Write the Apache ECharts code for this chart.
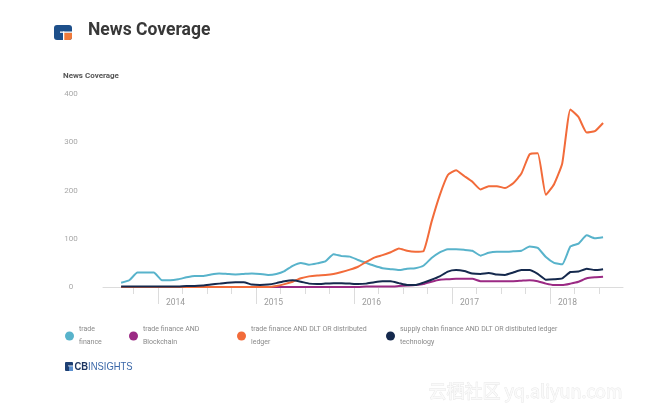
<!DOCTYPE html>
<html><head><meta charset="utf-8">
<script src="https://cdn.jsdelivr.net/npm/echarts@6/dist/echarts.min.js"></script>
<style>html,body{margin:0;padding:0;background:#fff}#c{width:650px;height:415px}</style>
</head><body><div id="c"></div>
<script>
const months = [
 '2013-08','2013-09','2013-10','2013-11','2013-12',
 '2014-01','2014-02','2014-03','2014-04','2014-05','2014-06','2014-07','2014-08','2014-09','2014-10','2014-11','2014-12',
 '2015-01','2015-02','2015-03','2015-04','2015-05','2015-06','2015-07','2015-08','2015-09','2015-10','2015-11','2015-12',
 '2016-01','2016-02','2016-03','2016-04','2016-05','2016-06','2016-07','2016-08','2016-09','2016-10','2016-11','2016-12',
 '2017-01','2017-02','2017-03','2017-04','2017-05','2017-06','2017-07','2017-08','2017-09','2017-10','2017-11','2017-12',
 '2018-01','2018-02','2018-03','2018-04','2018-05','2018-06','2018-07'
];
const yearLabels = [2014, 2015, 2016, 2017, 2018];
const yTicks = [0, 100, 200, 300, 400];
const seriesNames = [
 'trade\nfinance',
 'trade finance AND\nBlockchain',
 'trade finance AND DLT OR distributed\nledger',
 'supply chain finance AND DLT OR distibuted ledger\ntechnology'
];
const tradeFinance = [9,14,30,30,30,14,14,16,20,23, 23,26,28,27,26,27,28,27,25,27, 33,44,50,46,49,53,68,64,63,56, 50,44,39,37,35,38,39,44,60,72, 78,78,77,75,65,71,73,73,74,75, 84,81,62,50,47,84,90,107,101,103];
const blockchain = [0,0,0,0,0,0,0,0,0,0, 0,0,0,0,0,0,0,0,0,0, 0,0,0,0,0,0,0,0,0,0, 1,1,1,1,2,3,4,6,11,15, 16,17,17,17,12,12,12,12,12,13, 14,12,7,4,4,7,11,18,20,21];
const dltLedger = [0,0,0,0,0,0,0,0,0,0, 0,0,0,0,0,0,0,0,0,2, 6,11,18,22,24,25,27,31,36,42, 52,61,66,72,80,75,73,74,135,190, 232,242,230,218,202,209,209,205,215,235, 275,277,191,213,256,368,352,320,323,340];
const supplyChain = [1,1,1,1,1,1,1,1,2,2, 3,5,7,9,10,10,5,4,5,8, 12,14,11,7,6,7,8,8,7,6, 7,10,12,12,8,4,4,9,15,22, 32,35,33,28,27,29,26,25,30,35, 35,27,15,16,18,31,32,38,35,37];
const colors = ['#58b3cb', '#9b2a84', '#f26b3a', '#15294d'];

function toX(m) { const p = m.split('-').map(Number); return p[0] + (p[1] - 0.5) / 12; }
const quarterTicks = [];
for (let q = 2013.75; q <= 2018.5 + 1e-9; q += 0.25) quarterTicks.push(+q.toFixed(2));

const allSeries = [tradeFinance, blockchain, dltLedger, supplyChain];
const FONT = 'Roboto';
const chart = echarts.init(document.getElementById('c'), null, {renderer: 'canvas'});
const legendLefts = [65, 129, 237, 386];

chart.setOption({
  animation: false,
  backgroundColor: '#ffffff',
  textStyle: {fontFamily: FONT},
  title: {
    text: 'News Coverage', left: 83, top: 17,
    textStyle: {fontSize: 17.5, fontWeight: 'bold', color: '#383838', fontFamily: FONT}
  },
  legend: seriesNames.map((n, i) => ({
    data: [n], left: legendLefts[i], top: 323, icon: 'circle', itemWidth: 9, itemHeight: 9,
    selectedMode: false, padding: 0,
    textStyle: {fontSize: 7, color: '#8a8a8a', lineHeight: 13, fontFamily: FONT}
  })),
  grid: {left: 103, right: 27, top: 94, bottom: 128},
  xAxis: [{
    type: 'value', min: 2013.44, max: 2018.745,
    axisLine: {lineStyle: {color: '#dcdcdc', width: 1}},
    axisTick: {customValues: quarterTicks, length: 7, lineStyle: {color: '#dcdcdc'}},
    axisLabel: {customValues: yearLabels, formatter: v => String(Math.round(v)), align: 'left',
      padding: [0, 0, 0, 8], margin: 11, color: '#9a9a9a', fontSize: 8.5, fontFamily: FONT},
    splitLine: {show: false}
  }, {
    type: 'value', min: 2013.44, max: 2018.745, position: 'bottom',
    axisLine: {show: false},
    axisTick: {customValues: yearLabels, length: 17, lineStyle: {color: '#dcdcdc'}},
    axisLabel: {show: false},
    splitLine: {show: false}
  }],
  yAxis: {
    type: 'value', min: yTicks[0], max: yTicks[yTicks.length - 1], interval: 100,
    axisLine: {show: false}, axisTick: {show: false}, splitLine: {show: false},
    axisLabel: {color: '#a8a8a8', fontSize: 8, align: 'center', margin: 32, fontFamily: FONT}
  },
  series: allSeries.map((vals, i) => ({
    name: seriesNames[i], type: 'line', showSymbol: false, smooth: 0.15,
    color: colors[i], lineStyle: {width: 2, color: colors[i]},
    data: vals.map((v, k) => [toX(months[k]), v])
  })),
  graphic: [
    {type: 'text', left: 63, top: 72, style: {text: 'News Coverage', fontSize: 8, fontWeight: 'bold', fill: '#555', fontFamily: FONT}},
    {type: 'group', left: 54, top: 25, children: [
      {type: 'rect', shape: {x: 0, y: 0, width: 18, height: 15, r: 3}, style: {fill: '#1d4f8a'}},
      {type: 'rect', shape: {x: 10, y: 7.5, width: 8, height: 7.5, r: [0, 0, 3, 0]}, style: {fill: '#f07a3a'}},
      {type: 'rect', shape: {x: 6, y: 6.5, width: 12, height: 1.3}, style: {fill: '#fff'}},
      {type: 'rect', shape: {x: 9, y: 6.5, width: 1.3, height: 8.5}, style: {fill: '#fff'}}
    ]},
    {type: 'group', left: 65, top: 361, children: [
      {type: 'rect', shape: {x: 0, y: 1, width: 8, height: 9, r: 1}, style: {fill: '#1d3f73'}},
      {type: 'rect', shape: {x: 4, y: 5, width: 4, height: 5}, style: {fill: '#5b8fcf'}},
      {type: 'rect', shape: {x: 3, y: 4.5, width: 5, height: 0.8}, style: {fill: '#fff'}},
      {type: 'text', x: 9.5, y: 0, scaleX: 0.82, style: {
        text: '{a|CB}{b|INSIGHTS}', fontFamily: FONT,
        rich: {a: {fontSize: 11.5, fontWeight: 'bold', fill: '#1d3560'}, b: {fontSize: 11.5, fill: '#3a67a8'}}
      }}
    ]},
    {type: 'text', left: 428, top: 382, style: {
      text: '云栖社区 yq.aliyun.com', fontSize: 18, fill: '#fafafa',
      fontFamily: '"Noto Sans CJK SC", "Noto Sans", sans-serif',
      stroke: '#e6e6e6', lineWidth: 0.8
    }}
  ]
});
</script>
</body></html>
